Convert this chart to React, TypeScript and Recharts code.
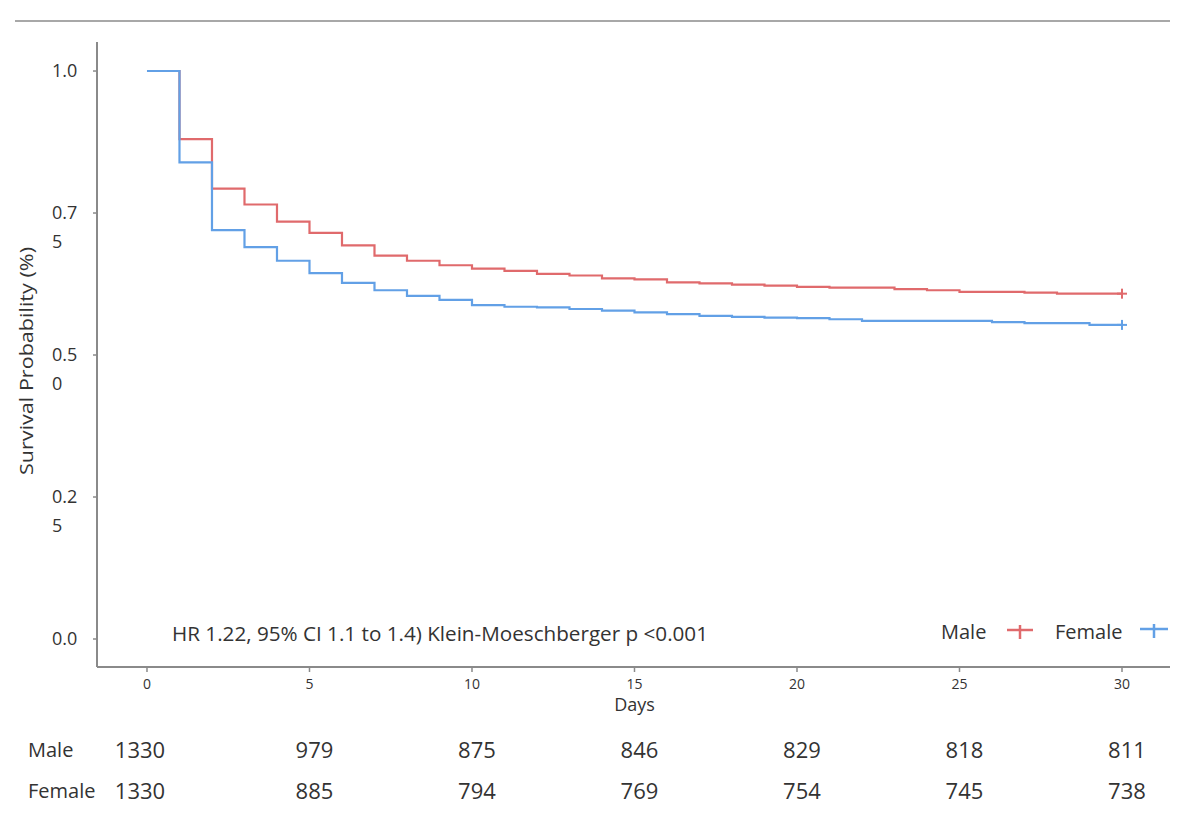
import React from 'react';
import { LineChart, Line, XAxis, YAxis, Customized } from 'recharts';

const days = [0, 1, 2, 3, 4, 5, 6, 7, 8, 9, 10, 11, 12, 13, 14, 15, 16, 17, 18, 19, 20, 21, 22, 23, 24, 25, 26, 27, 28, 29, 30];
const maleSurvival = [1.0, 0.88, 0.793, 0.765, 0.735, 0.715, 0.693, 0.675, 0.666, 0.658, 0.652, 0.648, 0.643, 0.64, 0.635, 0.633, 0.628, 0.626, 0.624, 0.622, 0.62, 0.6185, 0.6185, 0.616, 0.614, 0.611, 0.611, 0.61, 0.608, 0.608, 0.608];
const femaleSurvival = [1.0, 0.839, 0.72, 0.69, 0.666, 0.644, 0.627, 0.614, 0.604, 0.597, 0.588, 0.585, 0.584, 0.581, 0.578, 0.575, 0.572, 0.569, 0.567, 0.566, 0.565, 0.563, 0.56, 0.56, 0.56, 0.56, 0.558, 0.556, 0.556, 0.553, 0.553];

const riskDays = [0, 5, 10, 15, 20, 25, 30];
const maleAtRisk = [1330, 979, 875, 846, 829, 818, 811];
const femaleAtRisk = [1330, 885, 794, 769, 754, 745, 738];

const yTicks = [0, 0.25, 0.5, 0.75, 1];
const yTickLabels = [['0.0'], ['0.2', '5'], ['0.5', '0'], ['0.7', '5'], ['1.0']];

const seriesNames = ['Male', 'Female'];
const annotation = 'HR 1.22, 95% CI 1.1 to 1.4) Klein-Moeschberger p <0.001';

const data = days.map((d, i) => ({ day: d, male: maleSurvival[i], female: femaleSurvival[i] }));

const FONT = "'Open Sans', sans-serif";
const TEXT = '#333333';
const RED = '#E06A6C';
const BLUE = '#62A0E6';
const AXIS = '#8a8a8a';

const XTick = (props: any) => {
  const { x, y, payload } = props;
  const i = riskDays.indexOf(payload.value);
  const dx = i === 0 ? -7 : 5;
  return (
    <g fontFamily={FONT} fill={TEXT}>
      <text x={x} y={y + 17} textAnchor="middle" fontSize={14} fill={TEXT}>{payload.value}</text>
      <text x={x + dx} y={y + 86} textAnchor="middle" fontSize={22} fill={TEXT}>{maleAtRisk[i]}</text>
      <text x={x + dx} y={y + 127} textAnchor="middle" fontSize={22} fill={TEXT}>{femaleAtRisk[i]}</text>
    </g>
  );
};

const YTick = (props: any) => {
  const { x, y, payload } = props;
  const lines = yTickLabels[yTicks.indexOf(payload.value)] || [];
  return (
    <g fontFamily={FONT}>
      {lines.map((l, k) => (
        <text key={k} x={x - 41} y={y + 6 + k * 29} textAnchor="start" fontSize={18} fill={TEXT}>{l}</text>
      ))}
    </g>
  );
};

const makeEndDot = (color: string) => (props: any) => {
  const { cx, cy, index } = props;
  if (index !== days.length - 1) return <g key={`d${index}`} />;
  return (
    <g key={`d${index}`}>
      <line x1={cx - 5} x2={cx + 5} y1={cy} y2={cy} stroke={color} strokeWidth={2} />
      <line x1={cx} x2={cx} y1={cy - 5} y2={cy + 5} stroke={color} strokeWidth={2} />
    </g>
  );
};

const Overlay = () => (
  <g fontFamily={FONT}>
    <line x1={15} x2={1170} y1={21} y2={21} stroke="#a8a8a8" strokeWidth={2} />
    <text x={26} y={361} transform="rotate(-90 26 361)" textAnchor="middle" dominantBaseline="central" fontSize={19} fill={TEXT} textLength={228} lengthAdjust="spacingAndGlyphs">
      Survival Probability (%)
    </text>
    <text x={634.5} y={711} textAnchor="middle" fontSize={18} fill={TEXT}>Days</text>
    <text x={172} y={641} fontSize={20} fill={TEXT} textLength={536} lengthAdjust="spacingAndGlyphs">{annotation}</text>
    <text x={28} y={757} fontSize={20} fill={TEXT}>{seriesNames[0]}</text>
    <text x={28} y={798} fontSize={20} fill={TEXT}>{seriesNames[1]}</text>
    <g transform="translate(930 610)">
      <text x={11} y={29} fontSize={20} fill={TEXT}>{seriesNames[0]}</text>
      <line x1={77} x2={103} y1={20} y2={20} stroke={RED} strokeWidth={2.5} />
      <line x1={90} x2={90} y1={15} y2={29} stroke={RED} strokeWidth={2.5} />
      <text x={125} y={29} fontSize={20} fill={TEXT}>{seriesNames[1]}</text>
      <line x1={210} x2={238} y1={19} y2={19} stroke={BLUE} strokeWidth={2.5} />
      <line x1={224} x2={224} y1={14} y2={28} stroke={BLUE} strokeWidth={2.5} />
    </g>
  </g>
);

export default function App() {
  return (
    <div style={{ position: 'absolute', left: 0, top: 0, width: 1200, height: 829, background: '#fff' }}>
      <LineChart width={1200} height={829} data={data} margin={{ top: 42, right: 30, bottom: 0, left: 0 }}>
        <XAxis
          dataKey="day"
          type="number"
          domain={[-1.538, 31.477]}
          allowDataOverflow
          ticks={riskDays}
          interval={0}
          height={162}
          tickSize={5}
          tickMargin={0}
          axisLine={{ stroke: AXIS, strokeWidth: 2 }}
          tickLine={{ stroke: AXIS, strokeWidth: 1.5 }}
          tick={<XTick />}
        />
        <YAxis
          type="number"
          domain={[-0.0493, 1.0511]}
          allowDataOverflow
          ticks={yTicks}
          interval={0}
          width={97}
          tickSize={4}
          tickMargin={0}
          axisLine={{ stroke: AXIS, strokeWidth: 2 }}
          tickLine={{ stroke: AXIS, strokeWidth: 1.5 }}
          tick={<YTick />}
        />
        <Line type="stepAfter" dataKey="male" name={seriesNames[0]} stroke={RED} strokeWidth={2.2} dot={makeEndDot(RED)} activeDot={false} isAnimationActive={false} />
        <Line type="stepAfter" dataKey="female" name={seriesNames[1]} stroke={BLUE} strokeWidth={2.2} dot={makeEndDot(BLUE)} activeDot={false} isAnimationActive={false} />
        <Customized component={Overlay} />
      </LineChart>
    </div>
  );
}
